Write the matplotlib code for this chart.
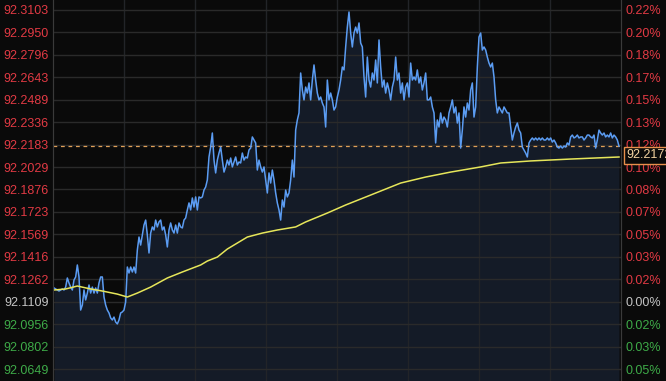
import matplotlib
matplotlib.use("Agg")
import matplotlib.pyplot as plt
import numpy as np

# previous close and axis ticks
base = 92.1109
tick_values = [92.3103, 92.2950, 92.2796, 92.2643, 92.2489, 92.2336, 92.2183, 92.2029,
               92.1876, 92.1723, 92.1569, 92.1416, 92.1262, 92.1109, 92.0956, 92.0802, 92.0649]
pct_labels = ["0.22%", "0.20%", "0.18%", "0.17%", "0.15%", "0.13%", "0.12%", "0.10%",
              "0.08%", "0.07%", "0.05%", "0.03%", "0.02%", "0.00%", "0.02%", "0.03%", "0.05%"]
last_price = 92.2172

# intraday price (one sample per tick)
price = [
    92.1203, 92.1196, 92.1189, 92.1182, 92.1189, 92.1196, 92.1189, 92.1209, 92.1271, 92.1237,
    92.1209, 92.1189, 92.1257, 92.1278, 92.1360, 92.1278, 92.1052, 92.1086, 92.1189, 92.1121,
    92.1168, 92.1223, 92.1168, 92.1209, 92.1168, 92.1203, 92.1168, 92.1237, 92.1278, 92.1278,
    92.1141, 92.1086, 92.1052, 92.1032, 92.0998, 92.0984, 92.1004, 92.0970, 92.0957, 92.0984,
    92.1032, 92.1039, 92.1052, 92.1107, 92.1346, 92.1305, 92.1346, 92.1312, 92.1346, 92.1305,
    92.1462, 92.1551, 92.1496, 92.1565, 92.1633, 92.1667, 92.1565, 92.1442, 92.1578, 92.1620,
    92.1599, 92.1667, 92.1620, 92.1654, 92.1667, 92.1599, 92.1620, 92.1565, 92.1483, 92.1599,
    92.1647, 92.1599, 92.1578, 92.1633, 92.1578, 92.1647, 92.1620, 92.1613, 92.1667, 92.1681,
    92.1736, 92.1784, 92.1736, 92.1818, 92.1756, 92.1825, 92.1736, 92.1825,
    92.1818, 92.1825, 92.1872, 92.1893, 92.1941, 92.2098, 92.2166, 92.2262, 92.2077, 92.1989,
    92.2077, 92.2125, 92.2166, 92.2077, 92.1995, 92.2030, 92.2077, 92.2043, 92.2091, 92.2030,
    92.2064, 92.2098, 92.2043, 92.2064, 92.2057, 92.2125, 92.2077, 92.2098, 92.2091, 92.2146,
    92.2159, 92.2235, 92.2214, 92.2194, 92.2009, 92.2077, 92.2030, 92.1995, 92.2030, 92.1941,
    92.1852, 92.1989, 92.1920, 92.2009, 92.1941, 92.1852, 92.1784, 92.1736, 92.1667, 92.1804,
    92.1756, 92.1872, 92.1825, 92.1852, 92.1941, 92.2077, 92.1961, 92.2282,
    92.2351, 92.2399, 92.2672, 92.2556, 92.2488, 92.2576, 92.2535, 92.2604, 92.2488, 92.2624,
    92.2727, 92.2624, 92.2535, 92.2488, 92.2508, 92.2467, 92.2440, 92.2303, 92.2624, 92.2488,
    92.2535, 92.2488, 92.2419, 92.2440, 92.2508, 92.2556, 92.2624, 92.2713, 92.2693, 92.2850,
    92.2986, 92.3089, 92.2945, 92.2850, 92.2945, 92.2986, 92.2945, 92.3014, 92.2877, 92.2850,
    92.2645, 92.2508, 92.2781, 92.2624, 92.2576, 92.2672, 92.2624, 92.2761, 92.2604, 92.2898,
    92.2713, 92.2576, 92.2624, 92.2535, 92.2604, 92.2556, 92.2488, 92.2576, 92.2624, 92.2781,
    92.2624, 92.2672, 92.2535, 92.2604, 92.2488, 92.2576, 92.2604, 92.2508, 92.2740, 92.2624,
    92.2645, 92.2624, 92.2693, 92.2604, 92.2645, 92.2556, 92.2604, 92.2672, 92.2488, 92.2488,
    92.2508, 92.2440, 92.2399, 92.2194, 92.2351, 92.2303, 92.2399, 92.2330, 92.2371, 92.2351,
    92.2303, 92.2399, 92.2440, 92.2488, 92.2399, 92.2440, 92.2330, 92.2399, 92.2159, 92.2282,
    92.2440, 92.2371, 92.2467, 92.2419, 92.2556, 92.2604, 92.2371, 92.2440, 92.2713, 92.2918,
    92.2945, 92.2829, 92.2850, 92.2829, 92.2781, 92.2740, 92.2713, 92.2740, 92.2645, 92.2488,
    92.2399, 92.2440, 92.2419, 92.2399, 92.2440, 92.2419, 92.2399, 92.2399, 92.2303, 92.2214,
    92.2262, 92.2303, 92.2330, 92.2282, 92.2262, 92.2166, 92.2146, 92.2125, 92.2098,
    92.2194, 92.2214, 92.2228, 92.2214, 92.2228, 92.2214, 92.2228, 92.2214, 92.2228, 92.2214,
    92.2214, 92.2228, 92.2214, 92.2228, 92.2200, 92.2214, 92.2194, 92.2166, 92.2159, 92.2173,
    92.2159, 92.2173, 92.2166, 92.2194, 92.2180, 92.2235, 92.2248, 92.2228, 92.2235, 92.2248,
    92.2228, 92.2235, 92.2235, 92.2214, 92.2228, 92.2248, 92.2248, 92.2235, 92.2228, 92.2248,
    92.2159, 92.2214, 92.2282, 92.2262, 92.2248, 92.2262, 92.2235, 92.2248, 92.2235, 92.2262,
    92.2228, 92.2248, 92.2235, 92.2214, 92.2172,
]

# average price line
avg_idx = [0, 7, 14, 22, 29, 38, 44, 50, 58, 68, 77, 88, 92, 98, 104, 116, 125, 134, 145,
           151, 164, 175, 190, 208, 223, 238, 256, 268, 286, 310, 339]
avg_price = [92.1189, 92.1196, 92.1216, 92.1196, 92.1182, 92.1161, 92.1141, 92.1168, 92.1209,
             92.1271, 92.1312, 92.1360, 92.1387, 92.1414, 92.1469, 92.1551, 92.1578, 92.1599,
             92.1620, 92.1654, 92.1715, 92.1770, 92.1838, 92.1920, 92.1961, 92.1995, 92.2030,
             92.2057, 92.2071, 92.2084, 92.2098]

BG = '#0a0a0a'
RED = '#e23a44'
GREEN = '#3eab48'
GREY = '#c4c4c4'
plt.rcParams['font.family'] = ['Liberation Sans', 'DejaVu Sans']

fig = plt.figure(figsize=(6.66, 3.81), dpi=100, facecolor=BG)
ax = fig.add_axes([53 / 666, 0, 568 / 666, 1])
ax.set_facecolor(BG)

x = np.arange(len(price))
y0, y1 = 92.0567, 92.3171
ax.set_ylim(y0, y1)
xmin, xmax = -0.6, 340.2
ax.set_xlim(xmin, xmax)

ax.fill_between(x, price, y0, color='#141b27', zorder=0.3, linewidth=0)
ax.plot(x, price, color='#5b9cf2', lw=1.1, zorder=3)
ax.plot(avg_idx, avg_price, color='#e6e65a', lw=1.1, zorder=3)
ax.axhline(last_price, color='#e0a058', lw=0.9, dashes=(3, 3), zorder=2.5)

ax.set_axisbelow(True)
ax.set_yticks(tick_values)
ax.set_yticklabels(["%.4f" % v for v in tick_values])
ax.set_xticks(np.linspace(xmin, xmax, 9)[1:-1])
ax.set_xticklabels([])
ax.grid(True, axis='y', color='#2a2a2a', lw=1)
ax.grid(True, axis='x', color='#222428', lw=1)
ax.tick_params(axis='y', length=0, pad=3, labelsize=9)
ax.tick_params(axis='x', length=0)

for lab, v in zip(ax.get_yticklabels(), tick_values):
    lab.set_color(RED if v > base + 1e-6 else (GREEN if v < base - 1e-6 else GREY))

ax2 = ax.twinx()
ax2.set_ylim(y0, y1)
ax2.set_yticks(tick_values)
ax2.set_yticklabels(pct_labels)
ax2.tick_params(axis='y', length=0, pad=3, labelsize=9)
for lab, v in zip(ax2.get_yticklabels(), tick_values):
    lab.set_color(RED if v > base + 1e-6 else (GREEN if v < base - 1e-6 else GREY))

for a in (ax, ax2):
    for s in ['top', 'bottom']:
        a.spines[s].set_visible(False)
    a.spines['left'].set_color('#3a3a3a')
    a.spines['right'].set_color('#3a3a3a')

fig.text(626 / 666, 1 - 155 / 381, "%.4f" % last_price, color='#f3d3a0', fontsize=9,
         va='center', ha='left', zorder=10,
         bbox=dict(boxstyle='square,pad=0.2', fc=BG, ec='#e8904c', lw=1))

fig.savefig('out.png', dpi=100, facecolor=BG)
